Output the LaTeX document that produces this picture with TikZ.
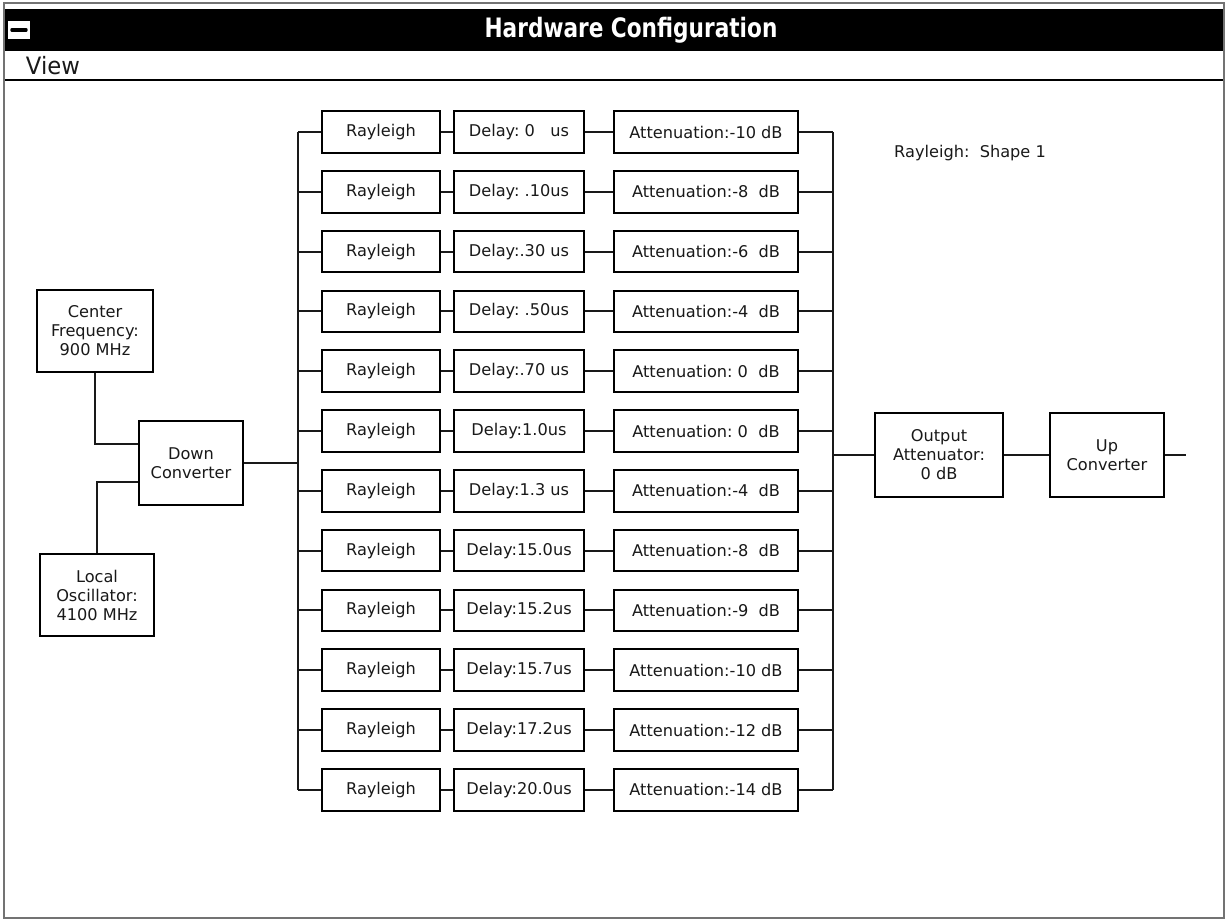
\documentclass[tikz,border=0pt]{standalone}
\usepackage{fontspec}
\setmainfont{DejaVu Sans}
\usetikzlibrary{positioning, calc}

\begin{document}
\begin{tikzpicture}[
  x=0.025cm, y=-0.025cm,
  blk/.style={draw, line width=1.5pt, fill=white, align=center, inner sep=1pt,
              font=\fontsize{11.5}{13.5}\selectfont, text=black!90,
              minimum height=1.04cm},
  ray/.style={blk, minimum width=2.95cm},
  kas/.style={blk, minimum width=3.25cm},
  pri/.style={blk, minimum width=4.6cm},
  put/.style={line width=1.5pt, black!90},
  ozn/.style={font=\fontsize{11.5}{13.5}\selectfont, text=black!90, inner sep=1pt}
]
  \useasboundingbox (0,0) rectangle (1227,921);

  % window frame, title bar and menu bar
  \draw[black!55, line width=1pt] (4,3) rectangle (1224,918);
  \fill[black] (5,9) rectangle (1223,51);
  \node[fill=white, minimum width=0.55cm, minimum height=0.45cm, inner sep=0pt] (sys) at (19,30) {};
  \draw[line width=2.2pt, line cap=round] ([xshift=-0.18cm]sys.center) -- ([xshift=0.18cm]sys.center);
  \node[text=white, font=\fontsize{19}{21}\bfseries] (nasl) at (631,30)
    {\scalebox{0.81}[1]{Hardware Configuration}};
  \node[anchor=west, font=\fontsize{17}{19}\selectfont, text=black!90] (view) at (21,66)
    {\scalebox{0.95}[1]{View}};
  \draw[line width=1.5pt] (5,80) -- (1223,80);

  % busbars
  \coordinate (lbus) at (298,132);
  \coordinate (rbus) at (833,132);

  % fading paths
  \foreach \d/\a [count=\i] in {
      {Delay:\ 0\ \ \ us}/{Attenuation:-10 dB},
      {Delay:\ .10us}/{Attenuation:-8\ \ dB},
      {Delay:.30 us}/{Attenuation:-6\ \ dB},
      {Delay:\ .50us}/{Attenuation:-4\ \ dB},
      {Delay:.70 us}/{Attenuation:\ 0\ \ dB},
      {Delay:1.0us}/{Attenuation:\ 0\ \ dB},
      {Delay:1.3 us}/{Attenuation:-4\ \ dB},
      {Delay:15.0us}/{Attenuation:-8\ \ dB},
      {Delay:15.2us}/{Attenuation:-9\ \ dB},
      {Delay:15.7us}/{Attenuation:-10 dB},
      {Delay:17.2us}/{Attenuation:-12 dB},
      {Delay:20.0us}/{Attenuation:-14 dB}} {
    \pgfmathsetmacro\yy{132+(\i-1)*59.8}
    \node[ray] (ray\i) at (381,\yy) {Rayleigh};
    \node[kas] (kas\i) at (519,\yy) {\d};
    \node[pri] (pri\i) at (706,\yy) {\a};
    \draw[put] (lbus|-ray\i) -- (ray\i) -- (kas\i) -- (pri\i) -- (rbus|-pri\i);
  }
  \draw[put] (lbus|-ray1) -- (lbus|-ray12);
  \draw[put] (rbus|-pri1) -- (rbus|-pri12);

  % input side
  \node[blk, minimum width=2.58cm, minimum height=2.08cm] (dol) at (191,463) {Down\\Converter};
  \node[blk, minimum width=2.88cm, minimum height=2.03cm] (cf) at (95,331) {Center\\Frequency:\\900 MHz};
  \node[blk, minimum width=2.83cm, minimum height=2.03cm] (lo) at (97,595) {Local\\Oscillator:\\4100 MHz};
  \draw[put] (cf.south) |- ([yshift=0.48cm]dol.west);
  \draw[put] (lo.north) |- ([yshift=-0.48cm]dol.west);
  \draw[put] (dol) -- (lbus|-dol);

  % output side
  \node[blk, minimum width=3.2cm, minimum height=2.1cm] (oat) at (939,455) {Output\\Attenuator:\\0 dB};
  \node[blk, minimum width=2.83cm, minimum height=2.08cm, right=1.13cm of oat] (upc) {Up\\Converter};
  \coordinate (izl) at (1186,455);
  \draw[put] (rbus|-oat) -- (oat) -- (upc) -- (izl);

  \node[ozn] (oblik) at (970,153) {Rayleigh:\ \ Shape 1};
\end{tikzpicture}
\end{document}
